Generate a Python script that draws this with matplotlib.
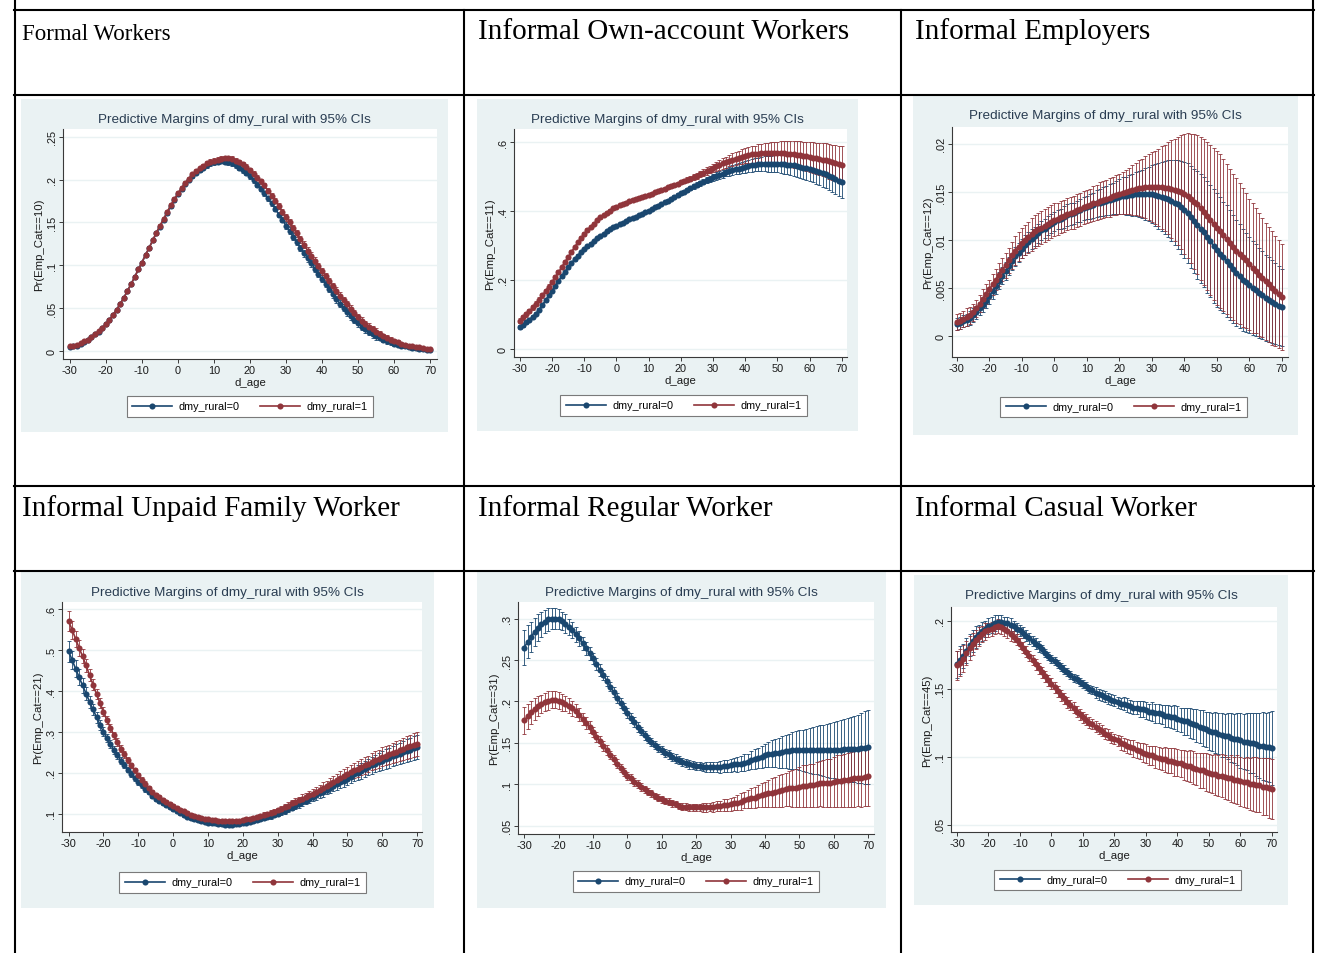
import numpy as np
import matplotlib
matplotlib.use("Agg")
import matplotlib.pyplot as plt
from matplotlib.patches import Rectangle
from matplotlib.lines import Line2D

plt.rcParams['font.family'] = ['Liberation Sans', 'DejaVu Sans']

W, H = 1317, 954
d_age = np.arange(-30, 71)
x_ticks = list(range(-30, 71, 10))
group_labels = ["dmy_rural=0", "dmy_rural=1"]
panel_headers = ["Formal Workers", "Informal Own-account Workers", "Informal Employers",
                 "Informal Unpaid Family Worker", "Informal Regular Worker", "Informal Casual Worker"]
y_titles = ["Pr(Emp_Cat==10)", "Pr(Emp_Cat==11)", "Pr(Emp_Cat==12)",
            "Pr(Emp_Cat==21)", "Pr(Emp_Cat==31)", "Pr(Emp_Cat==45)"]
chart_title = "Predictive Margins of dmy_rural with 95% CIs"

# ---- Emp_Cat==10 (formal) ----
formal_r0 = [.004, .005, .006, .008, .010, .013,
             .016, .019, .022, .026, .031, .036, .042, .048, .055, .062,
             .070, .078, .086, .095, .103, .112, .120, .129, .137, .145,
             .153, .161, .169, .176, .183, .189, .195, .200, .204, .208,
             .211, .214, .217, .219, .220, .221, .222, .221, .220, .219,
             .217, .214, .211, .208, .204, .199, .194, .189, .184, .178,
             .172, .166, .159, .153, .146, .140, .133, .127, .120, .114,
             .108, .102, .096, .090, .084, .078, .072, .066, .060, .055,
             .050, .045, .040, .036, .032, .028, .025, .022, .019, .017,
             .015, .013, .011, .010, .008, .007, .006, .005, .004, .003,
             .003, .002, .002, .001, .001]
formal_r1 = [.005, .006, .007, .009, .011, .013,
             .016, .019, .023, .027, .031, .036, .042, .048, .055, .062,
             .070, .078, .086, .095, .103, .112, .120, .129, .138, .146,
             .154, .162, .170, .177, .184, .190, .196, .201, .206, .210,
             .213, .216, .219, .221, .222, .223, .224, .225, .225, .224,
             .222, .220, .218, .215, .211, .207, .202, .198, .193, .187,
             .181, .175, .169, .162, .156, .150, .143, .137, .130, .124,
             .117, .111, .105, .099, .093, .087, .081, .075, .070, .064,
             .059, .054, .049, .044, .039, .035, .031, .028, .025, .022,
             .019, .017, .015, .013, .011, .010, .008, .007, .006, .005,
             .004, .004, .003, .002, .002]
formal_r0_ci = [.001] * 10 + [.002] * 28 + [.003] * 22 + [.004] * 26 + [.003] * 5 + [.002] * 7 + [.001] * 3
formal_r1_ci = [.001] * 10 + [.002] * 28 + [.003] * 21 + [.004] * 28 + [.003] * 5 + [.002] * 6 + [.001] * 3

# ---- Emp_Cat==11 (own-account) ----
own_r0 = [.063, .070, .077, .085, .093, .102,
          .114, .127, .141, .155, .169, .183, .197, .211, .224, .237,
          .249, .260, .271, .281, .290, .298, .306, .314, .322, .329,
          .335, .341, .347, .353, .358, .363, .367, .372, .376, .380,
          .384, .389, .393, .398, .402, .407, .411, .416, .421, .426,
          .431, .436, .442, .447, .452, .457, .462, .467, .472, .477,
          .481, .486, .490, .494, .498, .502, .506, .509, .513, .516,
          .519, .522, .524, .527, .529, .531, .533, .535, .536, .537,
          .538, .538, .538, .538, .538, .537, .536, .535, .534, .533,
          .531, .529, .527, .525, .523, .520, .517, .514, .510, .507,
          .503, .498, .494, .489, .484]
own_r1 = [.082, .091, .100, .110, .120, .131,
          .143, .155, .168, .181, .194, .208, .222, .237, .252, .266,
          .281, .295, .309, .322, .334, .345, .355, .364, .373, .382,
          .389, .396, .402, .408, .413, .417, .421, .425, .429, .433,
          .436, .439, .442, .445, .448, .451, .455, .458, .462, .465,
          .469, .473, .476, .480, .484, .488, .491, .495, .499, .503,
          .508, .512, .517, .521, .526, .530, .535, .539, .543, .547,
          .550, .553, .556, .559, .561, .563, .565, .566, .567, .568,
          .569, .569, .569, .569, .569, .569, .568, .567, .566, .565,
          .564, .563, .561, .560, .558, .556, .554, .552, .550, .548,
          .545, .542, .540, .537, .534]
own_r0_ci = [.006, .006, .006, .005, .005, .005,
             .005, .005, .005, .005, .005, .005, .004, .004, .004, .004,
             .004, .004, .004, .004, .004, .004, .003, .003, .003, .003,
             .003, .003, .003, .003, .003, .003, .003, .003, .003, .003,
             .003, .003, .003, .003, .003, .003, .003, .004, .004, .004,
             .004, .004, .005, .005, .005, .005, .006, .006, .007, .007,
             .008, .008, .009, .009, .010, .011, .011, .012, .012, .013,
             .014, .015, .015, .016, .017, .018, .019, .019, .020, .021,
             .022, .023, .023, .024, .025, .026, .027, .028, .029, .030,
             .031, .032, .033, .034, .035, .036, .037, .038, .040, .041,
             .042, .043, .044, .046, .047]
own_r1_ci = [.008, .008, .008, .007, .007, .007,
             .007, .007, .006, .006, .006, .006, .006, .005, .005, .005,
             .005, .005, .005, .005, .005, .005, .004, .004, .004, .004,
             .004, .004, .004, .004, .004, .004, .004, .004, .004, .004,
             .004, .004, .004, .004, .004, .004, .004, .005, .005, .005,
             .005, .005, .006, .006, .006, .007, .007, .008, .008, .009,
             .009, .010, .011, .011, .012, .013, .014, .015, .016, .017,
             .018, .019, .020, .021, .022, .023, .024, .025, .027, .028,
             .029, .030, .031, .032, .033, .034, .035, .036, .037, .038,
             .039, .040, .041, .042, .043, .044, .045, .046, .048, .049,
             .050, .051, .052, .054, .055]

# ---- Emp_Cat==12 (employers) ----
emp_r0 = [.0013, .0014, .0016, .0017, .0019, .0022,
          .0025, .0029, .0033, .0037, .0042, .0047, .0052, .0058, .0063, .0068,
          .0073, .0078, .0083, .0087, .0091, .0095, .0098, .0101, .0104, .0107,
          .0110, .0112, .0115, .0117, .0119, .0121, .0122, .0124, .0126, .0127,
          .0128, .0130, .0131, .0133, .0134, .0135, .0136, .0138, .0139, .0140,
          .0141, .0142, .0143, .0144, .0145, .0146, .0146, .0147, .0147, .0148,
          .0148, .0148, .0148, .0148, .0148, .0147, .0146, .0145, .0144, .0143,
          .0141, .0139, .0137, .0134, .0131, .0128, .0124, .0120, .0116, .0112,
          .0108, .0103, .0099, .0094, .0090, .0086, .0082, .0078, .0074, .0070,
          .0066, .0063, .0059, .0056, .0053, .0050, .0048, .0045, .0043, .0040,
          .0038, .0036, .0034, .0032, .0030]
emp_r1 = [.0015, .0016, .0018, .0020, .0022, .0025,
          .0029, .0034, .0039, .0044, .0049, .0054, .0059, .0064, .0069, .0074,
          .0079, .0084, .0089, .0093, .0097, .0100, .0103, .0106, .0109, .0111,
          .0113, .0115, .0117, .0119, .0121, .0122, .0124, .0125, .0127, .0128,
          .0129, .0131, .0132, .0134, .0135, .0136, .0138, .0139, .0141, .0142,
          .0143, .0144, .0146, .0147, .0148, .0149, .0150, .0151, .0152, .0153,
          .0154, .0154, .0155, .0155, .0155, .0155, .0155, .0155, .0154, .0154,
          .0153, .0152, .0151, .0150, .0148, .0146, .0143, .0140, .0137, .0133,
          .0129, .0125, .0121, .0117, .0113, .0109, .0105, .0101, .0097, .0093,
          .0089, .0086, .0082, .0079, .0075, .0071, .0068, .0064, .0061, .0057,
          .0054, .0050, .0047, .0044, .0041]
emp_r0_ci = [.0006, .0006, .0006, .0006, .0007, .0007,
             .0007, .0007, .0008, .0008, .0008, .0008, .0008, .0009, .0009, .0009,
             .0009, .0009, .0010, .0010, .0010, .0010, .0010, .0010, .0010, .0010,
             .0010, .0010, .0010, .0010, .0010, .0010, .0010, .0011, .0011, .0011,
             .0011, .0011, .0012, .0012, .0012, .0013, .0013, .0014, .0014, .0015,
             .0015, .0016, .0016, .0017, .0018, .0019, .0020, .0021, .0022, .0023,
             .0024, .0025, .0027, .0028, .0030, .0032, .0034, .0036, .0038, .0040,
             .0042, .0044, .0046, .0048, .0050, .0052, .0053, .0054, .0056, .0057,
             .0057, .0058, .0058, .0059, .0059, .0059, .0058, .0058, .0057, .0056,
             .0055, .0054, .0053, .0051, .0050, .0049, .0048, .0047, .0046, .0045,
             .0044, .0043, .0042, .0041, .0040]
emp_r1_ci = [.0008, .0008, .0008, .0009, .0009, .0009,
             .0009, .0009, .0010, .0010, .0010, .0011, .0011, .0012, .0012, .0013,
             .0013, .0014, .0015, .0015, .0016, .0016, .0016, .0017, .0017, .0017,
             .0017, .0017, .0017, .0017, .0017, .0017, .0017, .0017, .0017, .0017,
             .0017, .0017, .0017, .0017, .0017, .0017, .0018, .0018, .0019, .0019,
             .0019, .0020, .0020, .0021, .0021, .0022, .0023, .0024, .0026, .0027,
             .0029, .0030, .0032, .0034, .0036, .0038, .0040, .0043, .0045, .0048,
             .0051, .0053, .0056, .0059, .0062, .0065, .0067, .0070, .0072, .0074,
             .0076, .0077, .0078, .0079, .0080, .0080, .0079, .0078, .0077, .0076,
             .0075, .0073, .0072, .0070, .0068, .0067, .0065, .0064, .0062, .0061,
             .0060, .0059, .0057, .0056, .0055]

# ---- Emp_Cat==21 (unpaid family) ----
unpaid_r0 = [.497, .476, .455, .434, .414, .394,
             .374, .355, .336, .318, .300, .285, .270, .256, .243, .230,
             .219, .208, .197, .187, .177, .169, .160, .152, .144, .137,
             .131, .126, .121, .116, .111, .106, .101, .097, .093, .089,
             .086, .084, .082, .080, .078, .077, .076, .075, .074, .073,
             .073, .073, .074, .075, .076, .078, .080, .082, .084, .086,
             .089, .091, .094, .097, .100, .104, .107, .111, .115, .119,
             .123, .128, .132, .137, .141, .145, .150, .154, .159, .163,
             .168, .172, .177, .181, .186, .191, .196, .200, .205, .210,
             .214, .218, .222, .226, .230, .234, .237, .241, .244, .247,
             .250, .254, .257, .260, .263]
unpaid_r1 = [.571, .550, .528, .506, .485, .463,
             .439, .416, .393, .371, .349, .329, .310, .292, .275, .259,
             .245, .231, .218, .206, .194, .183, .173, .163, .154, .146,
             .140, .134, .129, .124, .119, .115, .110, .106, .102, .098,
             .095, .093, .090, .088, .086, .085, .084, .083, .082, .081,
             .081, .081, .082, .083, .084, .086, .088, .090, .092, .094,
             .097, .099, .102, .105, .108, .112, .116, .120, .125, .129,
             .133, .137, .141, .145, .149, .154, .159, .164, .168, .173,
             .178, .183, .188, .193, .198, .202, .206, .210, .214, .218,
             .222, .227, .231, .235, .239, .242, .245, .249, .252, .255,
             .258, .262, .265, .268, .271]
unpaid_r0_ci = [.025, .023, .021, .019, .018, .016,
                .015, .014, .013, .012, .011, .010, .010, .009, .009, .008,
                .008, .007, .007, .006, .006, .006, .006, .005, .005, .005,
                .005, .004, .004, .004, .004, .004, .004, .004, .004, .004,
                .004, .004, .004, .004, .004, .004, .004, .004, .004, .004,
                .004, .004, .004, .004, .004, .004, .004, .005, .005, .005,
                .005, .005, .006, .006, .006, .006, .007, .007, .007, .008,
                .008, .009, .009, .010, .010, .011, .011, .012, .012, .013,
                .013, .014, .015, .015, .016, .017, .017, .018, .019, .019,
                .020, .021, .021, .022, .023, .024, .024, .025, .026, .026,
                .027, .028, .028, .029, .030]
unpaid_r1_ci = [.024, .022, .020, .019, .017, .016,
                .015, .014, .013, .012, .011, .010, .010, .009, .009, .008,
                .008, .007, .007, .006, .006, .006, .006, .005, .005, .005,
                .005, .005, .005, .005, .005, .005, .005, .004, .004, .004,
                .004, .004, .004, .004, .004, .004, .004, .004, .004, .004,
                .004, .004, .005, .005, .005, .005, .005, .005, .006, .006,
                .006, .006, .007, .007, .007, .007, .008, .008, .008, .009,
                .009, .010, .010, .011, .011, .012, .012, .013, .013, .014,
                .014, .015, .016, .016, .017, .017, .018, .019, .019, .020,
                .020, .021, .022, .022, .023, .024, .024, .025, .026, .026,
                .027, .028, .028, .029, .030]

# ---- Emp_Cat==31 (regular) ----
regular_r0 = [.265, .272, .278, .284, .289, .293,
              .296, .299, .300, .300, .299, .297, .294, .290, .286, .281,
              .276, .270, .264, .258, .252, .245, .238, .232, .225, .218,
              .211, .204, .198, .192, .186, .180, .175, .169, .164, .159,
              .155, .151, .147, .144, .141, .138, .136, .133, .131, .129,
              .127, .126, .124, .123, .122, .122, .121, .121, .121, .121,
              .121, .121, .122, .122, .123, .124, .124, .125, .126, .127,
              .129, .130, .132, .133, .135, .136, .137, .138, .138, .139,
              .140, .140, .141, .141, .141, .141, .141, .141, .141, .141,
              .141, .141, .141, .141, .141, .141, .141, .142, .142, .142,
              .143, .143, .144, .144, .145]
regular_r1 = [.177, .182, .187, .191, .194, .197,
              .199, .201, .202, .202, .201, .199, .197, .195, .192, .189,
              .184, .179, .174, .169, .163, .157, .152, .146, .141, .135,
              .130, .125, .120, .115, .110, .107, .103, .100, .097, .094,
              .091, .089, .086, .084, .082, .080, .079, .077, .076, .074,
              .073, .073, .072, .072, .072, .072, .072, .072, .073, .073,
              .074, .074, .075, .075, .076, .077, .078, .079, .081, .082,
              .083, .084, .086, .087, .088, .089, .090, .091, .092, .093,
              .094, .095, .095, .096, .097, .098, .098, .099, .099, .100,
              .101, .101, .102, .102, .103, .104, .104, .105, .105, .106,
              .107, .108, .108, .109, .110]
regular_r0_ci = [.021, .020, .018, .017, .016, .015,
                 .014, .014, .013, .013, .012, .011, .011, .010, .010, .009,
                 .009, .008, .008, .008, .007, .007, .007, .006, .006, .006,
                 .006, .006, .006, .006, .006, .006, .006, .006, .005, .005,
                 .005, .005, .005, .005, .005, .005, .005, .005, .005, .005,
                 .005, .005, .005, .005, .005, .005, .005, .006, .006, .006,
                 .006, .007, .007, .007, .008, .008, .009, .009, .010, .010,
                 .011, .012, .012, .013, .014, .015, .016, .017, .018, .019,
                 .020, .021, .022, .023, .024, .025, .026, .027, .028, .029,
                 .030, .031, .032, .033, .034, .035, .036, .037, .038, .039,
                 .040, .041, .042, .044, .045]
regular_r1_ci = [.016, .015, .014, .013, .012, .011,
                 .011, .011, .010, .010, .010, .010, .009, .009, .009, .008,
                 .008, .007, .007, .007, .006, .006, .006, .006, .006, .005,
                 .005, .005, .005, .005, .005, .005, .005, .005, .005, .004,
                 .004, .004, .004, .004, .004, .004, .004, .004, .004, .004,
                 .004, .004, .004, .004, .004, .004, .005, .005, .005, .006,
                 .006, .006, .007, .007, .008, .008, .009, .010, .010, .011,
                 .012, .013, .013, .014, .015, .016, .017, .018, .019, .020,
                 .020, .021, .022, .023, .024, .025, .025, .026, .026, .027,
                 .027, .028, .029, .029, .030, .031, .031, .032, .033, .033,
                 .034, .034, .035, .035, .036]

# ---- Emp_Cat==45 (casual) ----
casual_r0 = [.168, .171, .174, .178, .182, .185,
             .188, .190, .192, .194, .196, .197, .198, .199, .199, .198,
             .198, .197, .196, .194, .193, .191, .189, .187, .185, .183,
             .181, .179, .176, .174, .172, .170, .168, .166, .164, .162,
             .160, .158, .157, .155, .1535, .152, .150, .149, .147, .146,
             .145, .144, .143, .142, .141, .140, .139, .139, .138, .137,
             .136, .136, .135, .135, .134, .133, .133, .132, .132, .131,
             .130, .130, .129, .129, .128, .127, .126, .126, .125, .124,
             .123, .122, .121, .120, .119, .118, .118, .117, .116, .1155,
             .115, .114, .113, .113, .112, .111, .111, .110, .110, .109,
             .108, .108, .107, .107, .1065]
casual_r1 = [.167, .169, .172, .176, .180, .183,
             .186, .188, .190, .192, .193, .194, .195, .196, .195, .194,
             .192, .190, .188, .186, .183, .180, .177, .174, .171, .168,
             .165, .162, .159, .156, .1535, .151, .148, .145, .143, .140,
             .138, .136, .133, .131, .129, .127, .125, .124, .122, .1205,
             .119, .117, .116, .114, .113, .112, .110, .109, .108, .107,
             .106, .105, .104, .103, .102, .101, .101, .100, .099, .0985,
             .098, .097, .097, .096, .0955, .095, .094, .093, .093, .092,
             .091, .090, .090, .089, .088, .087, .087, .086, .086, .085,
             .084, .084, .083, .083, .082, .081, .081, .080, .080, .0795,
             .079, .078, .078, .077, .0765]
casual_r0_ci = [.010, .010, .009, .009, .008, .008,
                .008, .007, .007, .006, .006, .006, .006, .005, .005, .005,
                .005, .005, .004, .004, .004, .004, .004, .004, .004, .004,
                .004, .003, .003, .003, .003, .003, .003, .003, .003, .003,
                .003, .003, .003, .003, .003, .003, .003, .003, .004, .004,
                .004, .004, .004, .004, .004, .004, .004, .005, .005, .005,
                .005, .005, .006, .006, .006, .006, .007, .007, .007, .007,
                .008, .008, .008, .009, .009, .009, .010, .010, .011, .011,
                .012, .012, .013, .013, .014, .014, .015, .015, .016, .016,
                .017, .018, .018, .019, .020, .020, .021, .022, .022, .023,
                .024, .025, .025, .026, .027]
casual_r1_ci = [.011, .010, .010, .009, .009, .008,
                .007, .007, .006, .006, .005, .005, .005, .005, .005, .005,
                .005, .005, .004, .004, .004, .004, .004, .004, .004, .004,
                .004, .004, .004, .004, .004, .004, .004, .004, .004, .004,
                .004, .004, .004, .004, .004, .004, .004, .004, .004, .004,
                .004, .004, .004, .004, .004, .004, .005, .005, .005, .005,
                .006, .006, .006, .007, .007, .007, .007, .008, .008, .008,
                .009, .009, .009, .010, .010, .010, .011, .011, .012, .012,
                .012, .013, .013, .014, .014, .014, .015, .015, .016, .016,
                .016, .017, .017, .018, .018, .018, .019, .019, .020, .020,
                .020, .021, .021, .022, .022]

y_tick_values = [
    [0, .05, .1, .15, .2, .25],
    [0, .2, .4, .6],
    [0, .005, .01, .015, .02],
    [.1, .2, .3, .4, .5, .6],
    [.05, .1, .15, .2, .25, .3],
    [.05, .1, .15, .2],
]
series = [
    (formal_r0, formal_r0_ci, formal_r1, formal_r1_ci),
    (own_r0, own_r0_ci, own_r1, own_r1_ci),
    (emp_r0, emp_r0_ci, emp_r1, emp_r1_ci),
    (unpaid_r0, unpaid_r0_ci, unpaid_r1, unpaid_r1_ci),
    (regular_r0, regular_r0_ci, regular_r1, regular_r1_ci),
    (casual_r0, casual_r0_ci, casual_r1, casual_r1_ci),
]

# ---------------- layout (pixels, origin top-left) ----------------
# graph region, plot region, axis limits, title row, legend centre
layout = [
    dict(bg=(21, 100, 448, 433), ax=(63, 130, 437, 360), xlim=(-31.9, 71.9), ylim=(-0.0097, 0.259), ty=120, leg=(250, 407.5)),
    dict(bg=(477, 100, 858, 432), ax=(514, 130, 847, 358), xlim=(-31.8, 71.6), ylim=(-0.024, 0.639), ty=120, leg=(683.5, 406.5)),
    dict(bg=(913, 97, 1298, 436), ax=(952, 128, 1288, 358), xlim=(-31.5, 71.9), ylim=(-0.00214, 0.02174), ty=116, leg=(1123.5, 408)),
    dict(bg=(21, 573, 434, 909), ax=(62, 603, 422, 833), xlim=(-31.9, 71.4), ylim=(0.0552, 0.618), ty=593, leg=(242.5, 883.5)),
    dict(bg=(477, 573, 886, 909), ax=(518, 603, 874, 835), xlim=(-31.8, 71.7), ylim=(0.040, 0.320), ty=593, leg=(696, 882.5)),
    dict(bg=(914, 576, 1288, 906), ax=(951, 608, 1277, 833), xlim=(-31.9, 71.6), ylim=(0.0446, 0.210), ty=596, leg=(1117.5, 881)),
]
header_pos = [(22, 40, 16.5), (478, 39, 21), (915, 39, 21),
              (22, 516, 21), (478, 516, 21), (915, 516, 21)]

NAVY = '#1A476F'
MAROON = '#90353B'
GRAPH_BG = '#EAF2F3'
AXIS_C = '#3a3a3a'


def frac(x0, y0, x1, y1):
    return [x0 / W, 1 - y1 / H, (x1 - x0) / W, (y1 - y0) / H]


def stata_label(v):
    s = f"{v:g}"
    return s[1:] if s.startswith("0.") else s


fig = plt.figure(figsize=(W / 100, H / 100), dpi=100)
fig.patch.set_facecolor('white')


# table rules
def hline(y, x0=14, x1=1314):
    fig.add_artist(Line2D([x0 / W, x1 / W], [1 - y / H] * 2, color='black', lw=1.5,
                          transform=fig.transFigure, zorder=5))


def vline(x, y0, y1=954):
    fig.add_artist(Line2D([x / W] * 2, [1 - y0 / H, 1 - y1 / H], color='black', lw=1.5,
                          transform=fig.transFigure, zorder=5))


for yy in (11, 96, 487, 572):
    hline(yy)
vline(15, 0)
vline(1313, 0)
vline(464, 11)
vline(901, 11)

for (hx, hy, hs), txt in zip(header_pos, panel_headers):
    fig.text(hx / W, 1 - hy / H, txt, fontsize=hs, family=['Liberation Serif', 'DejaVu Serif'],
             ha='left', va='baseline', color='black')

for i, cfg in enumerate(layout):
    bx0, by0, bx1, by1 = cfg['bg']
    fig.add_artist(Rectangle((bx0 / W, 1 - by1 / H), (bx1 - bx0) / W, (by1 - by0) / H,
                             transform=fig.transFigure, facecolor=GRAPH_BG,
                             edgecolor='none', zorder=-2))
    ax0, ay0, ax1, ay1 = cfg['ax']
    ax = fig.add_axes(frac(*cfg['ax']))
    ax.set_facecolor('white')
    for s in ('top', 'right'):
        ax.spines[s].set_visible(False)
    for s in ('left', 'bottom'):
        ax.spines[s].set_color(AXIS_C)
        ax.spines[s].set_linewidth(0.8)

    m0, c0, m1, c1 = series[i]
    ax.errorbar(d_age, m0, yerr=c0, fmt='none', ecolor=NAVY, elinewidth=0.6,
                capsize=1.4, capthick=0.6, zorder=2)
    ax.errorbar(d_age, m1, yerr=c1, fmt='none', ecolor=MAROON, elinewidth=0.6,
                capsize=1.4, capthick=0.6, zorder=2)
    l0, = ax.plot(d_age, m0, '-o', color=NAVY, lw=1.2, ms=4.4, mew=0, zorder=3, label=group_labels[0])
    l1, = ax.plot(d_age, m1, '-o', color=MAROON, lw=1.2, ms=4.4, mew=0, zorder=3, label=group_labels[1])

    ax.set_xlim(*cfg['xlim'])
    ax.set_ylim(*cfg['ylim'])
    ax.set_xticks(x_ticks)
    ax.set_xticklabels([str(t) for t in x_ticks])
    yt = y_tick_values[i]
    ax.set_yticks(yt)
    ax.set_yticklabels([stata_label(v) for v in yt], rotation=90, va='center')
    ax.tick_params(axis='both', direction='out', length=3, width=0.7, color=AXIS_C,
                   labelsize=7.9, labelcolor='#1a1a1a')
    ax.tick_params(axis='x', pad=1.6)
    ax.tick_params(axis='y', pad=1.3)
    ax.yaxis.grid(True, color=GRAPH_BG, lw=1.0)
    ax.set_axisbelow(True)

    w_px, h_px = ax1 - ax0, ay1 - ay0
    ax.set_xlabel('d_age', fontsize=8.2, va='center', color='#1a1a1a')
    ax.xaxis.set_label_coords(0.5, -23.5 / h_px)
    ax.set_ylabel(y_titles[i], fontsize=8.2, va='center', color='#1a1a1a')
    ax.yaxis.set_label_coords(-24 / w_px, 0.5)

    fig.text(((bx0 + bx1) / 2) / W, 1 - cfg['ty'] / H, chart_title, ha='center', va='center',
             fontsize=9.7, color='#2a3d52')

    lx, ly = cfg['leg']
    leg = ax.legend(handles=[l0, l1], loc='center', bbox_to_anchor=(lx / W, 1 - ly / H),
                    bbox_transform=fig.transFigure, ncol=2, fontsize=7.8, frameon=True,
                    fancybox=False, edgecolor='#7a7a7a', framealpha=1, numpoints=1,
                    handlelength=3.7, handletextpad=0.6, columnspacing=1.9, borderpad=0.5)
    leg.get_frame().set_linewidth(0.8)

fig.savefig('out.png', dpi=100, facecolor='white')
